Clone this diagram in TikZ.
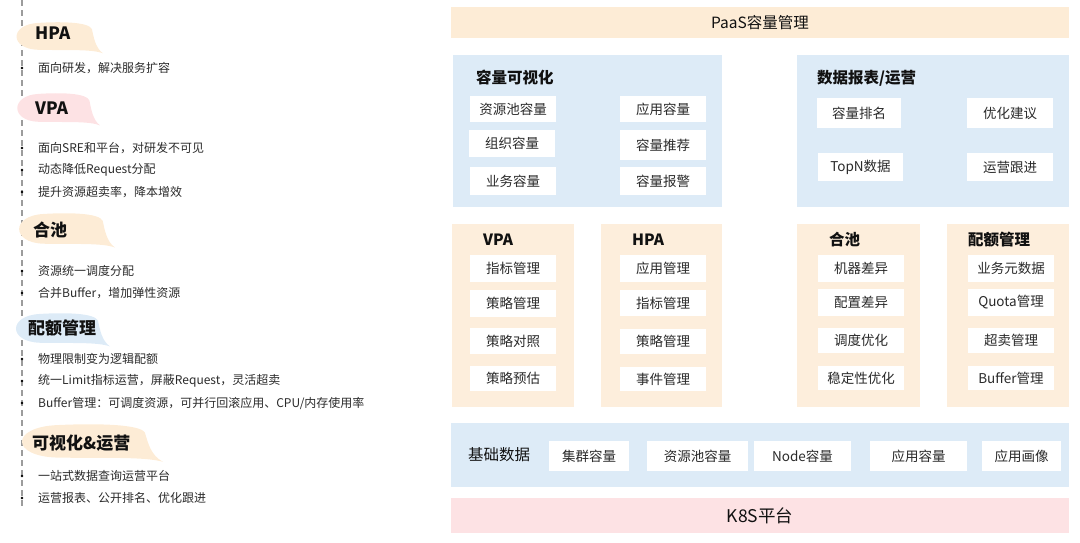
\documentclass[tikz,border=0pt]{standalone}
\usepackage{fontspec}
\setmainfont{Noto Sans CJK SC}
\definecolor{orangeL}{HTML}{FDECD6}
\definecolor{orangeP}{HTML}{FDEEDC}
\definecolor{blueL}{HTML}{DDEBF7}
\definecolor{pinkL}{HTML}{FDE2E4}
\definecolor{txt}{HTML}{2A2A2A}
\definecolor{ttl}{HTML}{111111}
\definecolor{dashc}{HTML}{9C9C9C}
\newcommand\speechbubble[5]{%
  \fill[#5, shift={(#1,#2)}, xscale=#3, yscale=#4]
    (1,1.08) .. controls (0.88,0.93) and (0.6,0.98) .. (0.3,0.96)
    .. controls (-0.02,0.93) and (-0.02,0.08) .. (0.3,0.03)
    .. controls (0.55,-0.02) and (0.85,0.0) .. (0.88,0.25)
    .. controls (0.9,0.55) and (0.92,0.9) .. (1,1.08) -- cycle;}
\tikzset{
  wbox/.style={fill=white, inner sep=0pt, minimum width=86pt, minimum height=26pt,
    font=\fontsize{13.5}{14}\selectfont, text=txt},
  ptitle/.style={anchor=west, inner sep=0pt, font=\fontsize{15.5}{16}\selectfont\bfseries, text=ttl},
  btitle/.style={anchor=west, inner sep=0pt, font=\fontsize{17}{18}\selectfont\bfseries, text=ttl},
  bitem/.style={anchor=west, inner sep=0pt, font=\fontsize{12}{13}\selectfont, text=txt},
  bdot/.style={circle, fill=black, inner sep=0pt, minimum size=2.6pt},
  bar/.style={inner sep=0pt, text=ttl},
}
\begin{document}
\begin{tikzpicture}[x=1pt,y=-1pt]
\useasboundingbox (0,0) rectangle (1080,542);
% ---------- left column ----------
\draw[dashc, line width=1.3pt, dash pattern=on 6pt off 4pt] (22,0) -- (22,507);
\speechbubble{11}{22}{92}{29}{orangeL}
\speechbubble{12}{93}{88}{30}{pinkL}
\speechbubble{13}{213}{102}{32}{orangeL}
\speechbubble{10}{313}{100}{31}{blueL}
\speechbubble{13}{424}{150}{35}{orangeL}
\node[btitle] (tHPA) at (35,33) {HPA};
\node[btitle] (tVPA) at (35,108) {VPA};
\node[btitle] (tPool) at (33,230) {合池};
\node[btitle] (tQuota) at (28,328) {配额管理};
\node[btitle] (tVis) at (32,443) {可视化\&运营};
\foreach \yy/\tt [count=\i] in {
  68/{面向研发，解决服务扩容},
  148/{面向SRE和平台，对研发不可见},
  170/{动态降低Request分配},
  192/{提升资源超卖率，降本增效},
  271/{资源统一调度分配},
  293/{合并Buffer，增加弹性资源},
  359/{物理限制变为逻辑配额},
  381/{统一Limit指标运营，屏蔽Request，灵活超卖},
  403/{Buffer管理：可调度资源，可并行回滚应用、CPU/内存使用率},
  476/{一站式数据查询运营平台},
  498/{运营报表、公开排名、优化跟进}}{
  \node[bdot] (d\i) at (22,\yy) {};
  \node[bitem] (it\i) at (38,\yy) {\tt};
}
% ---------- right: top bar ----------
\fill[orangeL] (451,7) rectangle (1069,38);
\node[bar, font=\fontsize{15.5}{16}\selectfont] (paas) at (760,22.5) {PaaS容量管理};
% ---------- row 2 ----------
\fill[blueL] (453,55) rectangle (722,207);
\node[ptitle] (vis) at (476,78) {容量可视化};
\node[wbox] (v1) at (513,109) {资源池容量};
\node[wbox] (v2) at (663,109) {应用容量};
\node[wbox, minimum height=27pt] (v3) at (512,143.5) {组织容量};
\node[wbox, minimum height=30pt] (v4) at (663,145) {容量推荐};
\node[wbox, minimum height=28pt] (v5) at (513,181) {业务容量};
\node[wbox, minimum height=28pt] (v6) at (663,181) {容量报警};
\fill[blueL] (797,55) rectangle (1069,207);
\node[ptitle] (rep) at (817,78) {数据报表/运营};
\node[wbox, minimum width=84pt, minimum height=30pt] (r1) at (859,113) {容量排名};
\node[wbox, minimum height=30pt] (r2) at (1010,113) {优化建议};
\node[wbox, minimum width=85pt, minimum height=28pt] (r3) at (860.5,167) {TopN数据};
\node[wbox, minimum height=28pt] (r4) at (1010,167) {运营跟进};
% ---------- row 3 ----------
\fill[orangeP] (452,224) rectangle (574,407);
\node[ptitle] (vpa) at (483,240) {VPA};
\node[wbox, minimum height=27pt] (a1) at (513,268.5) {指标管理};
\node[wbox, minimum height=27pt] (a2) at (513,303.5) {策略管理};
\node[wbox] (a3) at (513,341) {策略对照};
\node[wbox, minimum height=25pt] (a4) at (513,378.5) {策略预估};
\fill[orangeP] (601,224) rectangle (722,407);
\node[ptitle] (hpa) at (632,240) {HPA};
\node[wbox, minimum height=27pt] (h1) at (663,268.5) {应用管理};
\node[wbox] (h2) at (663,303) {指标管理};
\node[wbox, minimum height=25pt] (h3) at (663,341.5) {策略管理};
\node[wbox, minimum height=24pt] (h4) at (663,379) {事件管理};
\fill[orangeP] (797,224) rectangle (920,407);
\node[ptitle] (pool) at (829,240) {合池};
\node[wbox, minimum height=27pt] (p1) at (861,268.5) {机器差异};
\node[wbox, minimum height=27pt] (p2) at (861,302.5) {配置差异};
\node[wbox, minimum height=25pt] (p3) at (861,340.5) {调度优化};
\node[wbox, minimum height=24pt] (p4) at (861,378) {稳定性优化};
\fill[orangeP] (947,224) rectangle (1069,407);
\node[ptitle] (quota) at (968,240) {配额管理};
\node[wbox, minimum height=27pt] (q1) at (1011,268.5) {业务元数据};
\node[wbox, minimum height=27pt] (q2) at (1011,302.5) {Quota管理};
\node[wbox, minimum height=25pt] (q3) at (1011,340.5) {超卖管理};
\node[wbox, minimum height=24pt] (q4) at (1011,378) {Buffer管理};
% ---------- base data ----------
\fill[blueL] (451,423) rectangle (1069,487);
\node[bar, anchor=west, font=\fontsize{15.5}{16}\selectfont] (base) at (468,455) {基础数据};
\node[wbox, minimum width=80pt, minimum height=30pt] (b1) at (589,456) {集群容量};
\node[wbox, minimum width=101pt, minimum height=30pt] (b2) at (697.5,456) {资源池容量};
\node[wbox, minimum width=97pt, minimum height=30pt] (b3) at (802.5,456) {Node容量};
\node[wbox, minimum width=97pt, minimum height=30pt] (b4) at (918.5,456) {应用容量};
\node[wbox, minimum width=79pt, minimum height=30pt] (b5) at (1021.5,456) {应用画像};
% ---------- K8S ----------
\fill[pinkL] (451,498) rectangle (1069,533);
\node[bar, font=\fontsize{17.5}{18}\selectfont] (k8s) at (760,515.5) {K8S平台};
\end{tikzpicture}
\end{document}
